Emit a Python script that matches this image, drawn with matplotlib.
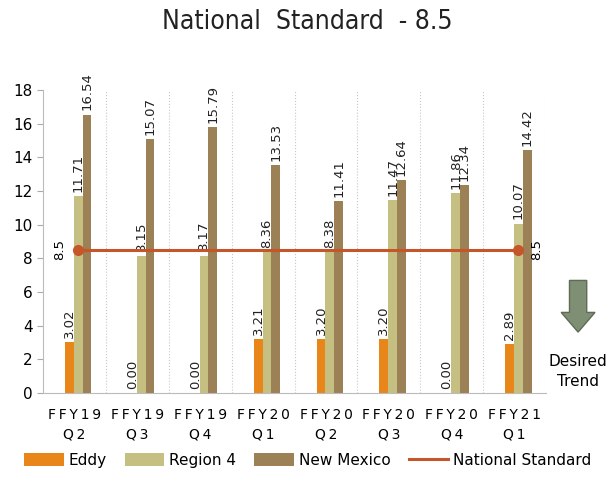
import numpy as np
import matplotlib.pyplot as plt
from matplotlib.patches import FancyArrow

quarters = ["FFY19\nQ2", "FFY19\nQ3", "FFY19\nQ4", "FFY20\nQ1",
            "FFY20\nQ2", "FFY20\nQ3", "FFY20\nQ4", "FFY21\nQ1"]
eddy = [3.02, 0.00, 0.00, 3.21, 3.20, 3.20, 0.00, 2.89]
region4 = [11.71, 8.15, 8.17, 8.36, 8.38, 11.47, 11.86, 10.07]
new_mexico = [16.54, 15.07, 15.79, 13.53, 11.41, 12.64, 12.34, 14.42]
national = 8.5

c_eddy = '#E8861A'
c_reg = '#C6BF82'
c_nm = '#9C8056'
c_nat = '#C5562A'

def spaced(s):
    # wide letter spacing like the original axis labels
    return "\n".join("\u2009".join(part) for part in s.split("\n"))

fig = plt.figure(figsize=(6.15, 4.92), dpi=100)
ax = fig.add_axes([0.07, 0.201, 0.818, 0.616])

x = np.arange(len(quarters))
w = 0.14
handles = []
series = [(eddy, c_eddy, 'Eddy'), (region4, c_reg, 'Region 4'), (new_mexico, c_nm, 'New Mexico')]
for i, (vals, col, name) in enumerate(series):
    xs = x + (i - 1) * w + 0.06
    handles.append(ax.bar(xs, vals, w, color=col, label=name, zorder=2))
    for xi, v in zip(xs, vals):
        ax.text(xi, v + 0.25, f"{v:.2f}", rotation=90, ha='center', va='bottom',
                fontsize=9.5, color='#222222', zorder=3)

line, = ax.plot([x[0] + 0.06, x[-1] + 0.06], [national, national], color=c_nat, lw=2.2,
                label='National Standard', zorder=4)
handles.append(line)
ax.plot([x[0] + 0.06, x[-1] + 0.06], [national, national], 'o', color=c_nat, ms=7, zorder=4)
ax.text(x[0] + 0.06 - 0.2, national, "8.5", rotation=90, ha='right', va='center', fontsize=9.5)
ax.text(x[-1] + 0.06 + 0.18, national, "8.5", rotation=90, ha='left', va='center', fontsize=9.5)

ax.set_xlim(-0.5, len(quarters) - 0.5)
ax.set_ylim(0, 18)
ax.set_yticks(range(0, 19, 2))
ax.tick_params(axis='y', labelsize=11, length=4, color='#aaaaaa')
ax.set_xticks(x)
ax.set_xticklabels([spaced(q) for q in quarters], fontsize=10, linespacing=1.5)
ax.tick_params(axis='x', length=0, pad=11)
for b in np.arange(0.5, len(quarters), 1.0):
    ax.axvline(b, color='#c8c8c8', lw=0.8, ls=':', zorder=1)
for s in ['top', 'right']:
    ax.spines[s].set_visible(False)
for s in ['left', 'bottom']:
    ax.spines[s].set_color('#bbbbbb')

arrow = FancyArrow(0.94, 0.43, 0, -0.105, width=0.028, head_width=0.055, head_length=0.04,
                   length_includes_head=True, transform=fig.transFigure,
                   facecolor='#7F8F74', edgecolor='#5e6b55', lw=1)
fig.patches.append(arrow)
fig.text(0.94, 0.245, "Desired\nTrend", ha='center', va='center', fontsize=11, linespacing=1.4)

fig.text(0.5, 0.955, "National  Standard  - 8.5", ha='center', va='center', fontsize=19,
         family=['Liberation Sans Narrow', 'DejaVu Sans'], stretch='condensed', color='#222222')

fig.legend(handles=handles, loc='center', bbox_to_anchor=(0.5, 0.065), ncol=4, frameon=False,
           fontsize=11, handlelength=2.6, handleheight=0.9, columnspacing=1.2, handletextpad=0.3)

fig.savefig('out.png', dpi=100)
